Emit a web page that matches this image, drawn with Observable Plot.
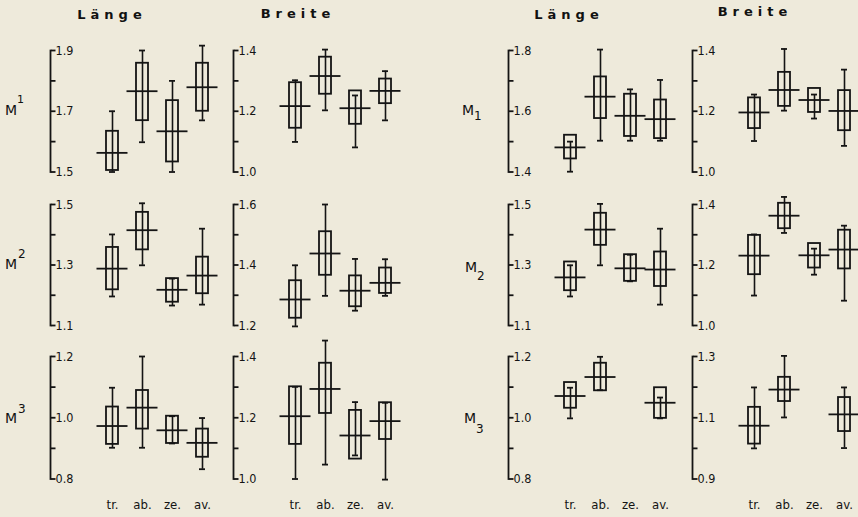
<!DOCTYPE html>
<html><head><meta charset="utf-8">
<script src="https://cdn.jsdelivr.net/npm/d3@7"></script>
<script src="https://cdn.jsdelivr.net/npm/@observablehq/plot@0.6"></script>
<style>
body{margin:0;background:#eeeadb;}
#chart{position:relative;width:858px;height:517px;overflow:hidden;background:#eeeadb;font-family:"DejaVu Sans",sans-serif;color:#111}
#chart svg{position:absolute;overflow:visible}
.lbl{position:absolute;line-height:1;white-space:nowrap}
.hdr{font-weight:bold;font-size:13px;letter-spacing:5px}
</style></head><body><div id="chart"></div>
<script>
// groups (x categories)
const groups = ["tr.","ab.","ze.","av."];
// each row: [min, box low, mean, box high, max]; null = no data
const upperM1_Laenge = [[1.50,1.505,1.563,1.634,1.70],[1.598,1.669,1.766,1.858,1.90],[1.50,1.533,1.634,1.735,1.80],[1.670,1.70,1.779,1.858,1.916]];
const upperM1_Breite = [[1.099,1.144,1.217,1.294,1.302],[1.203,1.256,1.316,1.378,1.403],[1.081,1.157,1.210,1.267,1.252],[1.170,1.225,1.267,1.306,1.332]];
const lowerM1_Laenge = [[1.401,1.443,1.481,1.521,1.500],[1.503,1.576,1.648,1.713,1.803],[1.503,1.517,1.585,1.656,1.672],[1.503,1.510,1.574,1.637,1.703]];
const lowerM1_Breite = [[1.102,1.143,1.196,1.244,1.255],[1.202,1.216,1.270,1.328,1.405],[1.176,1.196,1.237,1.275,1.255],[1.086,1.136,1.201,1.268,1.337]];
const upperM2_Laenge = [[1.196,1.218,1.288,1.358,1.401],[1.299,1.350,1.415,1.474,1.504],[1.166,1.177,1.218,1.255,1.255],[1.169,1.205,1.265,1.326,1.420]];
const upperM2_Breite = [[1.197,1.224,1.286,1.348,1.399],[1.298,1.366,1.438,1.510,1.600],[1.249,1.262,1.315,1.364,1.420],[1.298,1.306,1.341,1.390,1.419]];
const lowerM2_Laenge = [[1.196,1.215,1.259,1.310,1.299],[1.299,1.365,1.417,1.471,1.502],[1.246,1.246,1.289,1.334,1.334],[1.169,1.229,1.285,1.343,1.420]];
const lowerM2_Breite = [[1.099,1.168,1.231,1.298,1.301],[1.306,1.320,1.363,1.404,1.425],[1.168,1.190,1.232,1.271,1.254],[1.082,1.187,1.251,1.315,1.330]];
const upperM3_Laenge = [[0.902,0.913,0.973,1.035,1.098],[0.902,0.963,1.033,1.089,1.200],[0.916,0.916,0.959,1.005,1.005],[0.832,0.871,0.918,0.963,0.999]];
const upperM3_Breite = [[1.000,1.113,1.205,1.301,1.301],[1.047,1.214,1.294,1.378,1.452],[1.077,1.065,1.142,1.224,1.251],[0.998,1.129,1.189,1.249,1.249]];
const lowerM3_Laenge = [[0.998,1.031,1.071,1.115,1.098],[1.090,1.088,1.133,1.178,1.199],null,[0.998,0.998,1.049,1.098,1.066]];
const lowerM3_Breite = [[1.000,1.014,1.074,1.134,1.199],[1.101,1.153,1.192,1.232,1.302],null,[1.001,1.055,1.111,1.166,1.199]];
// labelled y ticks per panel
const ticks_upperM1_Laenge = [1.5,1.7,1.9];
const ticks_upperM1_Breite = [1.0,1.2,1.4];
const ticks_lowerM1_Laenge = [1.4,1.6,1.8];
const ticks_lowerM1_Breite = [1.0,1.2,1.4];
const ticks_upperM2_Laenge = [1.1,1.3,1.5];
const ticks_upperM2_Breite = [1.2,1.4,1.6];
const ticks_lowerM2_Laenge = [1.1,1.3,1.5];
const ticks_lowerM2_Breite = [1.0,1.2,1.4];
const ticks_upperM3_Laenge = [0.8,1.0,1.2];
const ticks_upperM3_Breite = [1.0,1.2,1.4];
const ticks_lowerM3_Laenge = [0.8,1.0,1.2];
const ticks_lowerM3_Breite = [0.9,1.1,1.3];
const headers = ["Länge","Breite","Länge","Breite"];

// layout
const colAxis = [49.5, 232.5, 508, 691.5];
const rowTop = [49.5, 203.5, 356];
const rowBottom = [171, 324.5, 478.5];
const chart = document.getElementById("chart");
const fmt = d3.format(".1f");
const ink = "#141414";
const sw = 1.8;

function panel(rows, ticks, col, row) {
  const A = colAxis[col], top = rowTop[row], bottom = rowBottom[row];
  const mt = 24, mb = row === 2 ? 38 : 24, left = 8, W = 190;
  const data = groups.map((g, i) => rows[i] ? {g, min: rows[i][0], lo: rows[i][1], mean: rows[i][2], hi: rows[i][3], max: rows[i][4]} : null).filter(Boolean);
  const [t0, t1, t2] = ticks;
  const allTicks = [t0, (t0 + t1) / 2, t1, (t1 + t2) / 2, t2];
  const labeled = new Set(ticks);
  const marks = [
    Plot.frame({anchor: "right", stroke: ink, strokeWidth: sw}),
    Plot.axisY({anchor: "right", ticks: allTicks, tickSize: 4.5, tickPadding: 0.5, strokeWidth: sw, stroke: ink, fill: ink,
      tickFormat: d => labeled.has(d) ? fmt(d) : "", fontSize: 12.5, label: null}),
    Plot.ruleX(data, {x: "g", y1: "min", y2: "max", stroke: ink, strokeWidth: 1.6}),
    Plot.tickY(data, {x: "g", y: "min", insetLeft: 3, insetRight: 3, stroke: ink, strokeWidth: sw}),
    Plot.tickY(data, {x: "g", y: "max", insetLeft: 3, insetRight: 3, stroke: ink, strokeWidth: sw}),
    Plot.barY(data, {x: "g", y1: "lo", y2: "hi", fill: "none", stroke: ink, strokeWidth: sw}),
    Plot.tickY(data, {x: "g", y: "mean", insetLeft: -9.5, insetRight: -9.5, stroke: ink, strokeWidth: sw})
  ];
  if (row === 2) marks.push(Plot.axisX({anchor: "bottom", tickSize: 0, tickPadding: 21, fontSize: 13, fill: ink, label: null}));
  const svg = Plot.plot({
    width: W, height: (bottom - top) + mt + mb,
    marginLeft: 0, marginRight: W - left, marginTop: mt, marginBottom: mb,
    x: {type: "band", domain: groups, range: [left + 61 - 15.25, left + 152.5 + 15.25], paddingInner: 0.6, paddingOuter: 0.3, align: 0.5, axis: null, label: null},
    y: {domain: [t0, t2], axis: null, label: null},
    style: {background: "transparent", fontFamily: "'DejaVu Sans Condensed','Liberation Sans Narrow','DejaVu Sans',sans-serif", fontStretch: "condensed", color: ink},
    marks
  });
  svg.style.left = (A - left) + "px";
  svg.style.top = (top - mt) + "px";
  chart.appendChild(svg);
}

panel(upperM1_Laenge, ticks_upperM1_Laenge, 0, 0);
panel(upperM1_Breite, ticks_upperM1_Breite, 1, 0);
panel(lowerM1_Laenge, ticks_lowerM1_Laenge, 2, 0);
panel(lowerM1_Breite, ticks_lowerM1_Breite, 3, 0);
panel(upperM2_Laenge, ticks_upperM2_Laenge, 0, 1);
panel(upperM2_Breite, ticks_upperM2_Breite, 1, 1);
panel(lowerM2_Laenge, ticks_lowerM2_Laenge, 2, 1);
panel(lowerM2_Breite, ticks_lowerM2_Breite, 3, 1);
panel(upperM3_Laenge, ticks_upperM3_Laenge, 0, 2);
panel(upperM3_Breite, ticks_upperM3_Breite, 1, 2);
panel(lowerM3_Laenge, ticks_lowerM3_Laenge, 2, 2);
panel(lowerM3_Breite, ticks_lowerM3_Breite, 3, 2);

function label(html, x, capTop, size, cls, center) {
  const d = document.createElement("div");
  d.className = "lbl" + (cls ? " " + cls : "");
  d.style.fontSize = size + "px";
  d.innerHTML = html;
  d.style.top = (capTop - 0.117 * size) + "px";
  d.style.left = x + "px";
  if (center) d.style.transform = "translateX(-50%)";
  chart.appendChild(d);
  return d;
}
// column headers
const hdrX = [112, 298, 569, 755];
const hdrY = [10, 9, 10, 7];
headers.forEach((h, i) => label(h, hdrX[i], hdrY[i], 13, "hdr", true));
// row labels: upper (superscript) and lower (subscript) molars
label("M", 5, 105, 14); label("1", 17, 95, 11);
label("M", 5, 259, 14); label("2", 18, 249, 12);
label("M", 5, 413, 14); label("3", 18, 404, 12);
label("M", 462, 105, 14); label("1", 474, 111, 12);
label("M", 465, 262, 14); label("2", 477, 271, 12);
label("M", 464, 413, 14); label("3", 476, 424, 12);
</script></body></html>
